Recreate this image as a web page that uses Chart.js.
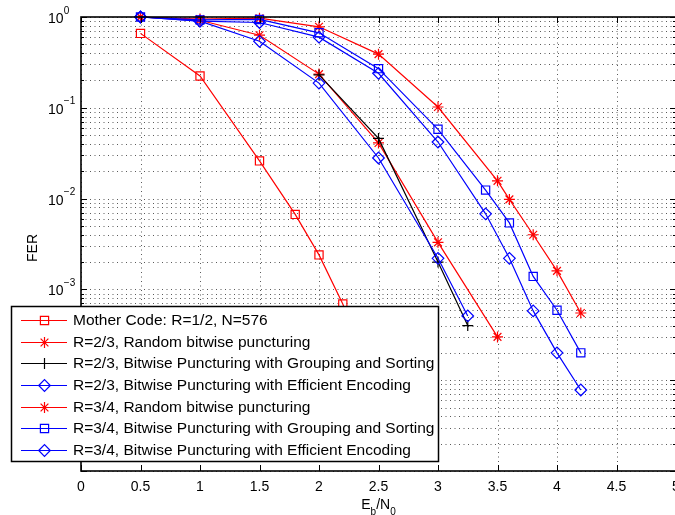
<!DOCTYPE html>
<html>
<head>
<meta charset="utf-8">
<script src="https://cdn.jsdelivr.net/npm/chart.js@4/dist/chart.umd.min.js"></script>
<style>
  html, body { margin: 0; padding: 0; background: #fff; overflow: hidden; }
  #wrap { width: 700px; height: 515px; }
</style>
</head>
<body>
<div id="wrap"><canvas id="ferChart" width="700" height="515"></canvas></div>
<script>
// tick values
var xTickValues = [0, 0.5, 1, 1.5, 2, 2.5, 3, 3.5, 4, 4.5, 5];
var xTickLabels = ['0', '0.5', '1', '1.5', '2', '2.5', '3', '3.5', '4', '4.5', '5'];
var yDecades = [0, -1, -2, -3, -4];   // exponents that get a 10^n label

// series: Eb/N0 and FER
var ebMother  = [0.5, 1.0, 1.5, 1.8, 2.0, 2.2, 2.4];
var ferMother = [0.66, 0.224, 0.026, 0.0067, 0.0024, 0.00069, 0.00014];

var eb23Rand  = [0.5, 1.0, 1.5, 2.0, 2.5, 3.0, 3.5];
var fer23Rand = [1.0, 0.92, 0.63, 0.235, 0.041, 0.0033, 0.0003];

var eb23Group  = [2.0, 2.5, 3.0, 3.25];
var fer23Group = [0.23, 0.046, 0.002, 0.0004];

var eb23Eff  = [0.5, 1.0, 1.5, 2.0, 2.5, 3.0, 3.25];
var fer23Eff = [1.0, 0.90, 0.54, 0.187, 0.028, 0.0022, 0.00051];

var eb34Rand  = [0.5, 1.0, 1.5, 2.0, 2.5, 3.0, 3.5, 3.6, 3.8, 4.0, 4.2];
var fer34Rand = [1.0, 0.95, 0.97, 0.78, 0.39, 0.102, 0.0157, 0.0098, 0.0040, 0.0016, 0.00055];

var eb34Group  = [0.5, 1.0, 1.5, 2.0, 2.5, 3.0, 3.4, 3.6, 3.8, 4.0, 4.2];
var fer34Group = [1.0, 0.93, 0.94, 0.67, 0.27, 0.058, 0.0124, 0.0054, 0.00139, 0.00059, 0.0002];

var eb34Eff  = [0.5, 1.0, 1.5, 2.0, 2.5, 3.0, 3.4, 3.6, 3.8, 4.0, 4.2];
var fer34Eff = [1.0, 0.90, 0.87, 0.60, 0.24, 0.042, 0.0068, 0.0022, 0.00058, 0.0002, 0.000078];

var seriesNames = [
    'Mother Code: R=1/2, N=576',
    'R=2/3, Random bitwise puncturing',
    'R=2/3, Bitwise Puncturing with Grouping and Sorting',
    'R=2/3, Bitwise Puncturing with Efficient Encoding',
    'R=3/4, Random bitwise puncturing',
    'R=3/4, Bitwise Puncturing with Grouping and Sorting',
    'R=3/4, Bitwise Puncturing with Efficient Encoding'
];

var FONT = '"Liberation Sans", Arial, Helvetica, sans-serif';

function toPoints(xs, ys) {
    var pts = [];
    for (var i = 0; i < xs.length; i++) pts.push({x: xs[i], y: ys[i]});
    return pts;
}

// minor log grid 1..9 x 10^n between 1e-5 and 1
var yGridValues = [];
for (var e = -5; e <= 0; e++) {
    for (var m = 1; m <= 9; m++) {
        var v = m * Math.pow(10, e);
        if (v <= 1.0000001) yGridValues.push(v);
    }
}

function makeSet(i, xs, ys, color, style, radius) {
    return {
        label: seriesNames[i],
        data: toPoints(xs, ys),
        borderColor: color,
        backgroundColor: 'rgba(0,0,0,0)',
        borderWidth: 1.2,
        pointStyle: style,
        pointRadius: radius,
        pointHoverRadius: radius,
        pointBorderColor: color,
        pointBackgroundColor: 'rgba(0,0,0,0)',
        pointBorderWidth: 1.2,
        tension: 0,
        clip: false,
        order: 7 - i
    };
}

var datasets = [
    makeSet(0, ebMother, ferMother, '#ff0000', 'rect', 5.8),
    makeSet(1, eb23Rand, fer23Rand, '#ff0000', 'star', 5.5),
    makeSet(2, eb23Group, fer23Group, '#000000', 'cross', 5.5),
    makeSet(3, eb23Eff, fer23Eff, '#0000ff', 'rectRot', 5.8),
    makeSet(4, eb34Rand, fer34Rand, '#ff0000', 'star', 5.5),
    makeSet(5, eb34Group, fer34Group, '#0000ff', 'rect', 5.8),
    makeSet(6, eb34Eff, fer34Eff, '#0000ff', 'rectRot', 5.8)
];

function seg(ctx, x1, y1, x2, y2) {
    ctx.beginPath();
    ctx.moveTo(x1, y1);
    ctx.lineTo(x2, y2);
    ctx.stroke();
}

// dotted grid, drawn from the scales before the lines
var dottedGrid = {
    id: 'dottedGrid',
    beforeDatasetsDraw: function(chart) {
        var ctx = chart.ctx;
        var a = chart.chartArea;
        var xs = chart.scales.x, ys = chart.scales.y;
        ctx.save();
        ctx.strokeStyle = '#5a5a5a';
        ctx.lineWidth = 1;
        ctx.setLineDash([1, 3.5]);
        xTickValues.forEach(function(v) {
            var px = Math.round(xs.getPixelForValue(v)) + 0.5;
            seg(ctx, px, a.bottom, px, a.top);
        });
        yGridValues.forEach(function(v) {
            var py = Math.round(ys.getPixelForValue(v)) + 0.5;
            seg(ctx, a.left, py, a.right, py);
        });
        ctx.restore();
    }
};

// axes box, ticks, labels and the boxed legend in the lower left
var matlabLook = {
    id: 'matlabLook',
    afterDraw: function(chart) {
        var ctx = chart.ctx;
        var a = chart.chartArea;
        var xs = chart.scales.x, ys = chart.scales.y;
        ctx.save();
        ctx.strokeStyle = '#000';
        ctx.lineWidth = 1;

        // tick marks pointing inwards
        xTickValues.forEach(function(v) {
            var px = Math.round(xs.getPixelForValue(v)) + 0.5;
            seg(ctx, px, a.bottom, px, a.bottom - 6);
            seg(ctx, px, a.top, px, a.top + 6);
        });
        yGridValues.forEach(function(v) {
            var py = Math.round(ys.getPixelForValue(v)) + 0.5;
            var major = Math.abs(Math.log10(v) - Math.round(Math.log10(v))) < 1e-9;
            var len = major ? 6 : 3;
            seg(ctx, a.left, py, a.left + len, py);
            seg(ctx, a.right, py, a.right - len, py);
        });

        // box
        ctx.lineWidth = 1.6;
        ctx.strokeRect(a.left, a.top, a.right - a.left, a.bottom - a.top);

        // x tick labels
        ctx.fillStyle = '#000';
        ctx.font = '14px ' + FONT;
        ctx.textAlign = 'center';
        ctx.textBaseline = 'alphabetic';
        xTickValues.forEach(function(v, i) {
            ctx.fillText(xTickLabels[i], xs.getPixelForValue(v), 490.5);
        });

        // y tick labels 10^n
        yDecades.forEach(function(n) {
            var py = ys.getPixelForValue(Math.pow(10, n));
            ctx.textAlign = 'left';
            ctx.font = '14px ' + FONT;
            ctx.fillText('10', 48, py + 6);
            ctx.font = '10px ' + FONT;
            ctx.fillText(n === 0 ? '0' : '\u2212' + (-n), 63.8, py - 3.5);
        });

        // y title
        ctx.save();
        ctx.translate(37, (a.top + a.bottom) / 2 + 4);
        ctx.rotate(-Math.PI / 2);
        ctx.font = '14px ' + FONT;
        ctx.textAlign = 'center';
        ctx.fillText('FER', 0, 0);
        ctx.restore();

        // x title E_b/N_0
        var parts = [['E', 14, 0], ['b', 10, 6], ['/N', 14, 0], ['0', 10, 6]];
        var total = 0;
        parts.forEach(function(p) { ctx.font = p[1] + 'px ' + FONT; total += ctx.measureText(p[0]).width; });
        var cx = xs.getPixelForValue(2.5) - total / 2;
        ctx.textAlign = 'left';
        parts.forEach(function(p) {
            ctx.font = p[1] + 'px ' + FONT;
            ctx.fillText(p[0], cx, 509 + p[2]);
            cx += ctx.measureText(p[0]).width;
        });

        // legend
        var lx = 11.5, ly = 306.5, lw = 427, lh = 155;
        ctx.fillStyle = '#fff';
        ctx.fillRect(lx, ly, lw, lh);
        ctx.strokeStyle = '#000';
        ctx.lineWidth = 1.5;
        ctx.strokeRect(lx, ly, lw, lh);
        chart.data.datasets.forEach(function(ds, i) {
            var y = Math.round(320 + i * 21.67) + 0.5;
            ctx.strokeStyle = ds.borderColor;
            ctx.fillStyle = 'rgba(0,0,0,0)';
            ctx.lineWidth = 1.2;
            seg(ctx, 21, y, 67, y);
            Chart.helpers.drawPoint(ctx, {
                pointStyle: ds.pointStyle,
                radius: ds.pointRadius,
                rotation: 0,
                borderWidth: 1.2
            }, 44.5, y);
            ctx.fillStyle = '#000';
            ctx.font = '15.5px ' + FONT;
            ctx.textAlign = 'left';
            ctx.textBaseline = 'middle';
            ctx.fillText(ds.label, 73, y + 0.5);
            ctx.textBaseline = 'alphabetic';
        });
        ctx.restore();
    }
};

var ctx = document.getElementById('ferChart').getContext('2d');
var ferChart = new Chart(ctx, {
    type: 'line',
    data: { datasets: datasets },
    options: {
        responsive: false,
        animation: false,
        events: [],
        layout: { padding: { left: 81, top: 17, right: 24, bottom: 44 } },
        plugins: {
            legend: { display: false },
            tooltip: { enabled: false }
        },
        scales: {
            x: {
                type: 'linear',
                min: 0,
                max: 5,
                afterBuildTicks: function(scale) {
                    scale.ticks = xTickValues.map(function(v) { return {value: v}; });
                },
                ticks: { display: false, autoSkip: false },
                grid: { display: false, drawTicks: false },
                border: { display: false }
            },
            y: {
                type: 'logarithmic',
                min: 1e-5,
                max: 1,
                afterBuildTicks: function(scale) {
                    scale.ticks = yGridValues.map(function(v) { return {value: v}; });
                },
                ticks: { display: false, autoSkip: false },
                grid: { display: false, drawTicks: false },
                border: { display: false }
            }
        }
    },
    plugins: [dottedGrid, matlabLook]
});
</script>
</body>
</html>
